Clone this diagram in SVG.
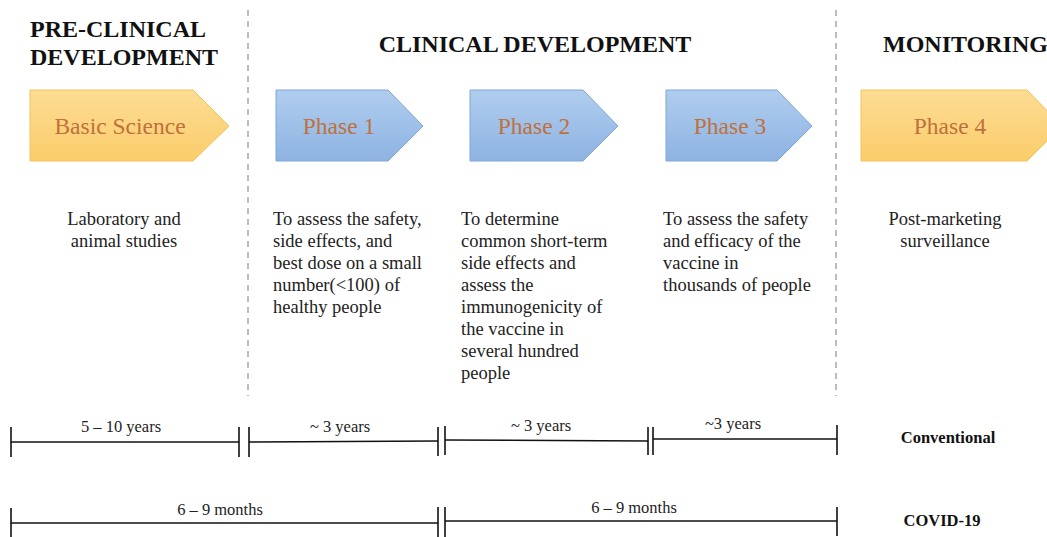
<svg xmlns="http://www.w3.org/2000/svg" width="1047" height="537" viewBox="0 0 1047 537">
<defs>
<linearGradient id="gBlue" x1="0" y1="0" x2="0" y2="1"><stop offset="0" stop-color="#b0cdee"/><stop offset="1" stop-color="#8db3e2"/></linearGradient>
<linearGradient id="gOrange" x1="0" y1="0" x2="0" y2="1"><stop offset="0" stop-color="#fcdc94"/><stop offset="1" stop-color="#fbcd6a"/></linearGradient>
<style>
text{font-family:"Liberation Serif","Times New Roman",serif}
.hdr{font-weight:bold;font-size:24px;fill:#111}
.lbl{font-size:23.5px;fill:#c0703c;text-anchor:middle}
.desc{font-size:18.5px;fill:#222}
.c{text-anchor:middle}
.blue{fill:url(#gBlue);stroke:#7fa6d6;stroke-width:1}
.orange{fill:url(#gOrange);stroke:#f2c35a;stroke-width:1}
.dash{stroke:#a8a8a8;stroke-width:1.5;stroke-dasharray:6,5;fill:none}
.tl{stroke:#111;stroke-width:1.6;fill:none}
.tlab{font-size:16.5px;fill:#222;text-anchor:middle}
.row{font-weight:bold;font-size:16.5px;fill:#111;text-anchor:middle}
</style>
</defs>
<rect width="1047" height="537" fill="#fff"/>
<g id="headers">
<text class="hdr" x="30" y="37">PRE-CLINICAL</text>
<text class="hdr" x="30" y="65">DEVELOPMENT</text>
<text class="hdr" x="535" y="52" text-anchor="middle">CLINICAL DEVELOPMENT</text>
<text class="hdr" x="883" y="52">MONITORING</text>
</g>
<g id="dividers">
<line class="dash" x1="248" y1="10" x2="248" y2="396"/>
<line class="dash" x1="836" y1="10" x2="836" y2="396"/>
</g>
<g id="basic-science">
<polygon class="orange" points="30,90 193,90 229,126 193,161 30,161"/>
<text class="lbl" x="120" y="134">Basic Science</text>
<text class="desc c" x="124" y="225">Laboratory and</text>
<text class="desc c" x="124" y="247">animal studies</text>
</g>
<g id="phase1">
<polygon class="blue" points="276,90 388,90 423,126 388,161 276,161"/>
<text class="lbl" x="339" y="134">Phase 1</text>
<text class="desc" x="273" y="225">To assess the safety,</text>
<text class="desc" x="273" y="247">side effects, and</text>
<text class="desc" x="273" y="269">best dose on a small</text>
<text class="desc" x="273" y="291">number(&lt;100) of</text>
<text class="desc" x="273" y="313">healthy people</text>
</g>
<g id="phase2">
<polygon class="blue" points="470,90 583,90 618,126 583,161 470,161"/>
<text class="lbl" x="534" y="134">Phase 2</text>
<text class="desc" x="461" y="225">To determine</text>
<text class="desc" x="461" y="247">common short-term</text>
<text class="desc" x="461" y="269">side effects and</text>
<text class="desc" x="461" y="291">assess the</text>
<text class="desc" x="461" y="313">immunogenicity  of</text>
<text class="desc" x="461" y="335">the vaccine in</text>
<text class="desc" x="461" y="357">several hundred</text>
<text class="desc" x="461" y="379">people</text>
</g>
<g id="phase3">
<polygon class="blue" points="666,90 777,90 812,126 777,161 666,161"/>
<text class="lbl" x="730" y="134">Phase 3</text>
<text class="desc" x="663" y="225">To assess the safety</text>
<text class="desc" x="663" y="247">and efficacy of the</text>
<text class="desc" x="663" y="269">vaccine in</text>
<text class="desc" x="663" y="291">thousands of people</text>
</g>
<g id="phase4">
<polygon class="orange" points="861,90 1027,90 1062,126 1027,161 861,161"/>
<text class="lbl" x="950" y="134">Phase 4</text>
<text class="desc c" x="945" y="225">Post-marketing</text>
<text class="desc c" x="945" y="247">surveillance</text>
</g>
<g id="connectors">
<g id="timeline-conventional">
<line class="tl" x1="11" y1="442" x2="239" y2="442"/>
<line class="tl" x1="11" y1="427" x2="11" y2="457"/>
<line class="tl" x1="239" y1="427" x2="239" y2="457"/>
<line class="tl" x1="249" y1="427" x2="249" y2="457"/>
<line class="tl" x1="249" y1="442" x2="438" y2="441"/>
<line class="tl" x1="438" y1="427" x2="438" y2="456"/>
<line class="tl" x1="445" y1="426" x2="445" y2="455"/>
<line class="tl" x1="445" y1="440" x2="648" y2="441"/>
<line class="tl" x1="648" y1="427" x2="648" y2="455"/>
<line class="tl" x1="653" y1="427" x2="653" y2="455"/>
<line class="tl" x1="653" y1="439" x2="837" y2="439"/>
<line class="tl" x1="837" y1="425" x2="837" y2="455"/>
</g>
<g id="timeline-covid">
<line class="tl" x1="11" y1="523" x2="438" y2="523"/>
<line class="tl" x1="11" y1="508" x2="11" y2="537"/>
<line class="tl" x1="438" y1="507" x2="438" y2="537"/>
<line class="tl" x1="445" y1="507" x2="445" y2="537"/>
<line class="tl" x1="445" y1="521" x2="837" y2="521"/>
<line class="tl" x1="837" y1="507" x2="837" y2="536"/>
</g>
</g>
<g id="timeline-labels">
<text class="tlab" x="121" y="432">5 – 10 years</text>
<text class="tlab" x="340" y="432">~ 3 years</text>
<text class="tlab" x="541" y="431">~ 3 years</text>
<text class="tlab" x="733" y="429">~3 years</text>
<text class="row" x="948" y="443">Conventional</text>
<text class="tlab" x="220" y="515">6 – 9 months</text>
<text class="tlab" x="634" y="513">6 – 9 months</text>
<text class="row" x="942" y="526">COVID-19</text>
</g>
</svg>
